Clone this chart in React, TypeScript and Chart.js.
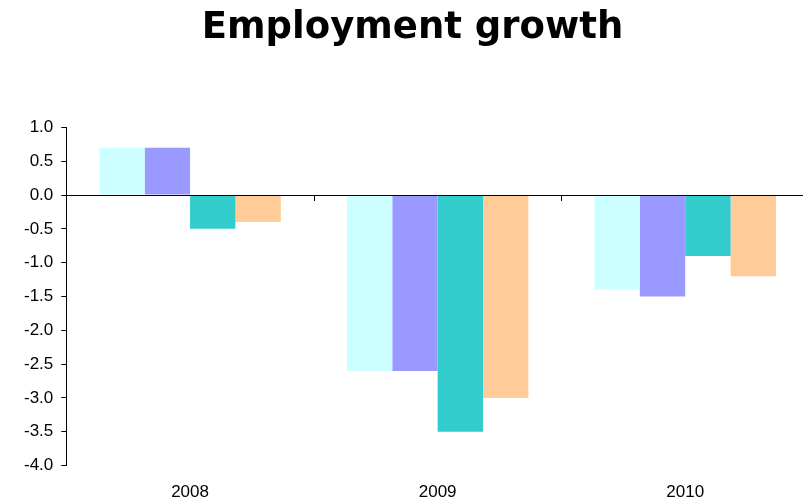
import React, { useEffect, useRef } from "react";
import { Chart, registerables } from "chart.js";

Chart.register(...registerables);

const categories = ["2008", "2009", "2010"];
const seriesA = [0.7, -2.6, -1.4];
const seriesB = [0.7, -2.6, -1.5];
const seriesC = [-0.5, -3.5, -0.9];
const seriesD = [-0.4, -3.0, -1.2];
const seriesColors = ["#CCFFFF", "#9999FF", "#33CCCC", "#FFCC99"];
const chartTitle = "Employment growth";

const zeroAxisPlugin = {
  id: "zeroAxis",
  afterDatasetsDraw(chart: any) {
    const { ctx, chartArea, scales } = chart;
    const y0 = scales.y.getPixelForValue(0);
    const xs = scales.x;
    ctx.save();
    ctx.strokeStyle = "#000";
    ctx.lineWidth = 1;
    ctx.beginPath();
    ctx.moveTo(chartArea.left, Math.round(y0) + 0.5);
    ctx.lineTo(chartArea.right, Math.round(y0) + 0.5);
    for (let i = 1; i < categories.length; i++) {
      const x = Math.round((xs.getPixelForValue(i - 1) + xs.getPixelForValue(i)) / 2) + 0.5;
      ctx.moveTo(x, Math.round(y0));
      ctx.lineTo(x, Math.round(y0) + 6);
    }
    ctx.stroke();
    ctx.restore();
  },
};

export default function App() {
  const ref = useRef<HTMLCanvasElement>(null);
  useEffect(() => {
    const chart = new Chart(ref.current!, {
      type: "bar",
      data: {
        labels: categories,
        datasets: [seriesA, seriesB, seriesC, seriesD].map((d, i) => ({
          label: "s" + i,
          data: d,
          backgroundColor: seriesColors[i],
          borderWidth: 0,
          barPercentage: 1,
          categoryPercentage: 0.733,
        })),
      },
      options: {
        animation: false,
        responsive: false,
        layout: { padding: { left: 16, right: 0, top: 0, bottom: 0 } },
        plugins: {
          legend: { display: false },
          tooltip: { enabled: false },
          title: {
            display: true,
            text: chartTitle,
            color: "#000",
            font: { family: "DejaVu Sans", size: 37, weight: "bold" },
            padding: { top: 6, bottom: 77 },
          },
        },
        scales: {
          x: {
            grid: { display: false },
            border: { display: false },
            ticks: {
              color: "#000",
              font: { family: "Liberation Sans", size: 17 },
              padding: 9,
            },
          },
          y: {
            min: -4,
            max: 1,
            grid: {
              drawOnChartArea: false,
              drawTicks: true,
              tickLength: 5,
              color: "#000",
            },
            border: { display: true, color: "#000" },
            ticks: {
              stepSize: 0.5,
              color: "#000",
              font: { family: "Liberation Sans", size: 17 },
              padding: 8,
              callback: (v: any) => Number(v).toFixed(1),
            },
          },
        },
      },
      plugins: [zeroAxisPlugin],
    });
    return () => chart.destroy();
  }, []);
  return (
    <div style={{ position: "fixed", left: 0, top: 0, width: 803, height: 500, background: "#fff", overflow: "hidden" }}>
      <canvas ref={ref} width={809} height={512} />
    </div>
  );
}
